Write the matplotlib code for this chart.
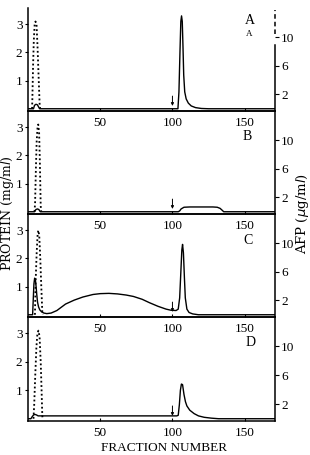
import matplotlib
matplotlib.use("Agg")
import matplotlib.pyplot as plt

W, H = 310, 455

# --- data (fraction number, protein mg/ml) ---
dot_A_x = [2.8, 3.0, 3.5, 4.0, 4.6, 5.2, 5.9, 6.6, 7.3, 8.1, 8.5]
dot_A_y = [0.0, 0.3, 1.5, 2.4, 3.0, 3.1, 3.0, 2.2, 1.2, 0.1, 0.0]
sol_A_x = [0, 3.8, 4.5, 5.5, 6.5, 7.5, 8.0, 103.8, 104.5, 105.2, 105.8, 106.3, 106.8, 107.3,
           107.8, 108.5, 109.5, 111, 113, 116, 120, 125, 171]
sol_A_y = [0, 0.0, 0.12, 0.16, 0.14, 0.05, 0.0, 0.0, 0.6, 2.0, 3.1, 3.3, 3.1, 2.2,
           1.2, 0.6, 0.35, 0.2, 0.1, 0.04, 0.01, 0.0, 0.0]

dot_B_x = [4.5, 4.9, 5.5, 6.0, 6.6, 7.1, 7.7, 8.2, 8.8, 9.2]
dot_B_y = [0.0, 0.3, 1.6, 2.5, 3.0, 3.1, 2.8, 1.8, 0.2, 0.0]
sol_B_x = [0, 4.5, 5.5, 6.5, 7.5, 8.5, 104, 105, 106, 108, 112, 120, 128, 131, 133, 134.5, 135.5, 171]
sol_B_y = [0, 0.0, 0.08, 0.1, 0.08, 0.0, 0.0, 0.03, 0.1, 0.16, 0.17, 0.17, 0.17, 0.16, 0.12, 0.05, 0.0, 0.0]

dot_C_x = [4.8, 5.3, 6.0, 6.7, 7.2, 7.8, 8.5, 9.2, 9.9, 10.3]
dot_C_y = [0.0, 1.2, 2.2, 2.9, 3.0, 2.8, 2.0, 1.0, 0.1, 0.0]
sol_C_x = [0, 3.2, 3.6, 4.1, 4.6, 5.1, 5.6, 6.1, 6.6, 7.3, 8.2, 9.5, 11, 13, 16, 20, 26, 32, 38,
           45, 50, 56, 62, 68, 73, 79, 84, 90, 95.6, 99, 102.5, 104, 105, 105.8, 106.5,
           107.0, 107.6, 108.3, 108.9, 110, 111.5, 114, 118, 171]
sol_C_y = [0, 0.0, 0.5, 1.1, 1.3, 1.25, 1.0, 0.7, 0.45, 0.28, 0.17, 0.1, 0.06, 0.04, 0.06, 0.15,
           0.38, 0.52, 0.63, 0.72, 0.75, 0.76, 0.74, 0.7, 0.65, 0.55, 0.43, 0.3, 0.2, 0.16,
           0.15, 0.2, 0.6, 1.5, 2.3, 2.5, 2.2, 1.3, 0.6, 0.2, 0.08, 0.03, 0.0, 0.0]

dot_D_x = [3.8, 4.3, 5.0, 5.8, 6.5, 7.2, 8.0, 8.8, 9.4, 9.9, 10.2]
dot_D_y = [0.0, 0.5, 1.5, 2.5, 3.0, 3.1, 2.9, 2.0, 1.0, 0.1, 0.0]
sol_D_x = [0, 2, 3, 4, 5, 6, 7, 8, 10, 50, 103, 104, 104.8, 105.5, 106.2, 107, 108, 109, 110,
           112, 115, 118, 122, 127, 132, 171]
sol_D_y = [0, 0, 0.08, 0.14, 0.15, 0.13, 0.1, 0.1, 0.1, 0.1, 0.1, 0.12, 0.5, 1.0, 1.22, 1.2,
           0.85, 0.6, 0.45, 0.3, 0.18, 0.1, 0.05, 0.02, 0.0, 0.0]

panels = [
    ("A", dot_A_x, dot_A_y, sol_A_x, sol_A_y),
    ("B", dot_B_x, dot_B_y, sol_B_x, sol_B_y),
    ("C", dot_C_x, dot_C_y, sol_C_x, sol_C_y),
    ("D", dot_D_x, dot_D_y, sol_D_x, sol_D_y),
]
arrow_at = 100
x_ticks = [50, 100, 150]
left_ticks = [1, 2, 3]
right_ticks = [2, 6, 10]

# pixel geometry of the scan
AX_LEFT, AX_RIGHT = 28, 275
bottoms = [111, 214, 317, 421]
tops = [8, 111, 214, 317]
letter_pos = [(250, 20), (247, 137), (248, 240), (251, 342)]

YLO, YHI = -0.08, 3.58
RSCALE = 3.93

serif = ["Liberation Serif", "DejaVu Serif"]
plt.rcParams["font.family"] = serif
fig = plt.figure(figsize=(W / 100, H / 100), dpi=100)

for i, (name, dx, dy, sx, sy) in enumerate(panels):
    rect = [AX_LEFT / W, 1 - bottoms[i] / H, (AX_RIGHT - AX_LEFT) / W, (bottoms[i] - tops[i]) / H]
    ax = fig.add_axes(rect)
    ax.patch.set_visible(False)
    ax.plot(dx, dy, color="black", lw=1.3, linestyle=(0, (1, 1.4)))
    ax.plot(sx, sy, color="black", lw=1.0)
    ax.annotate("", xy=(arrow_at, 0.1), xytext=(arrow_at, 0.45),
                arrowprops=dict(arrowstyle="-|>", color="black", lw=0.7,
                                mutation_scale=4, shrinkA=0, shrinkB=0))
    ax.set_xlim(0, 171)
    ax.set_ylim(YLO, YHI)
    ax.set_xticks(x_ticks)
    ax.set_yticks(left_ticks)
    ax.tick_params(axis="x", direction="in", length=2, pad=4.5 if i < 3 else 4, labelsize=9.5)
    ax.tick_params(axis="y", direction="out", length=2, pad=2, labelsize=9.5)
    for s in ax.spines.values():
        s.set_linewidth(1.1)
    ax.spines["right"].set_visible(False)
    if i == 0:
        ax.spines["top"].set_visible(False)

    ax2 = ax.twinx()
    ax2.patch.set_visible(False)
    ax2.set_ylim(YLO * RSCALE, YHI * RSCALE)
    ax2.set_yticks(right_ticks)
    ax2.tick_params(axis="y", direction="out", length=3, pad=1.5, labelsize=9.5)
    for k in ["left", "top", "bottom"]:
        ax2.spines[k].set_visible(False)
    ax2.spines["right"].set_linewidth(1.1)
    if i == 0:
        ax2.spines["right"].set_bounds(YLO * RSCALE, 2.25 * RSCALE)
        ax2.plot([1.0, 1.0], [2.65 * RSCALE, 3.5 * RSCALE], color="black", lw=1.1,
                 linestyle=(0, (3, 2)), transform=ax2.get_yaxis_transform(), clip_on=False)

    lx, ly = letter_pos[i]
    fig.text(lx / W, 1 - ly / H, name, ha="center", va="center", fontsize=10)

fig.text(249 / W, 1 - 34.5 / H, "A", ha="center", va="center", fontsize=6.5)

fig.text(164 / W, 1 - 448 / H, "FRACTION NUMBER", ha="center", va="center", fontsize=9.5)
fig.text(8 / W, 1 - 213 / H, "PROTEIN (mg/m$\\mathit{l}$)", rotation=90, ha="center", va="center",
         fontsize=9, family=["DejaVu Serif"])
fig.text(302.5 / W, 1 - 213.5 / H, "AFP ($\\mu$g/m$\\mathit{l}$)", rotation=90, ha="center", va="center",
         fontsize=9.5, family=["DejaVu Serif"])

fig.savefig("out.png", dpi=100)
